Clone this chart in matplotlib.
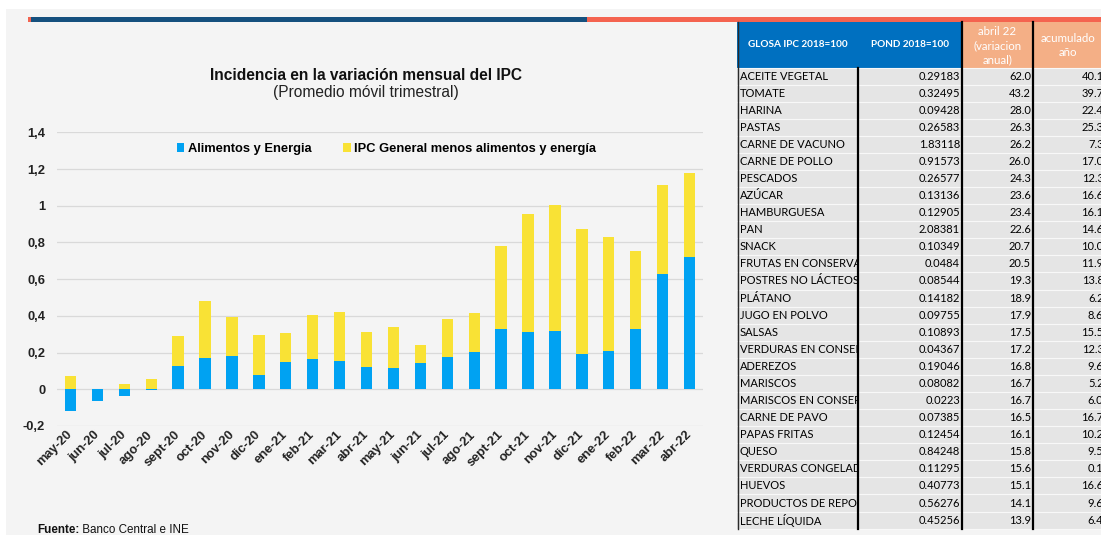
import matplotlib
matplotlib.use("Agg")
import matplotlib.pyplot as plt
from matplotlib.patches import Rectangle, Patch
from matplotlib.transforms import Bbox, TransformedBbox
import numpy as np

# ---------------- chart data ----------------
months = ["may-20", "jun-20", "jul-20", "ago-20", "sept-20", "oct-20", "nov-20",
          "dic-20", "ene-21", "feb-21", "mar-21", "abr-21", "may-21", "jun-21",
          "jul-21", "ago-21", "sept-21", "oct-21", "nov-21", "dic-21", "ene-22",
          "feb-22", "mar-22", "abr-22"]
alimentos_energia = [-0.120, -0.065, -0.035, -0.005, 0.127, 0.171, 0.182, 0.078,
                     0.151, 0.164, 0.153, 0.122, 0.114, 0.142, 0.178, 0.204,
                     0.329, 0.313, 0.320, 0.191, 0.207, 0.327, 0.627, 0.722]
ipc_sin_ae = [0.070, 0.003, 0.028, 0.058, 0.164, 0.311, 0.213, 0.217,
              0.153, 0.243, 0.267, 0.191, 0.224, 0.098, 0.206, 0.212,
              0.453, 0.643, 0.685, 0.682, 0.620, 0.428, 0.486, 0.458]
y_ticks = [-0.2, 0, 0.2, 0.4, 0.6, 0.8, 1.0, 1.2, 1.4]
y_tick_labels = ["-0,2", "0", "0,2", "0,4", "0,6", "0,8", "1", "1,2", "1,4"]
series_names = ["Alimentos y Energia", "IPC General menos alimentos y energía"]

# ---------------- table data ----------------
glosa = ["ACEITE VEGETAL", "TOMATE", "HARINA", "PASTAS", "CARNE DE VACUNO",
         "CARNE DE POLLO", "PESCADOS", "AZÚCAR", "HAMBURGUESA", "PAN", "SNACK",
         "FRUTAS EN CONSERVA", "POSTRES NO LÁCTEOS", "PLÁTANO", "JUGO EN POLVO",
         "SALSAS", "VERDURAS EN CONSERVA", "ADEREZOS", "MARISCOS",
         "MARISCOS EN CONSERVA", "CARNE DE PAVO", "PAPAS FRITAS", "QUESO",
         "VERDURAS CONGELADAS", "HUEVOS", "PRODUCTOS DE REPOSTERÍA", "LECHE LÍQUIDA"]
pond = [0.29183, 0.32495, 0.09428, 0.26583, 1.83118, 0.91573, 0.26577, 0.13136,
        0.12905, 2.08381, 0.10349, 0.0484, 0.08544, 0.14182, 0.09755, 0.10893,
        0.04367, 0.19046, 0.08082, 0.0223, 0.07385, 0.12454, 0.84248, 0.11295,
        0.40773, 0.56276, 0.45256]
var_anual = [62.0, 43.2, 28.0, 26.3, 26.2, 26.0, 24.3, 23.6, 23.4, 22.6, 20.7,
             20.5, 19.3, 18.9, 17.9, 17.5, 17.2, 16.8, 16.7, 16.7, 16.5, 16.1,
             15.8, 15.6, 15.1, 14.1, 13.9]
acumulado = [40.1, 39.7, 22.4, 25.3, 7.3, 17.0, 12.3, 16.6, 16.1, 14.6, 10.0,
             11.9, 13.8, 6.2, 8.6, 15.5, 12.3, 9.6, 5.2, 6.0, 16.7, 10.2, 9.5,
             0.1, 16.6, 9.6, 6.4]
headers = ["GLOSA IPC 2018=100", "POND 2018=100", "abril 22\n(variacion\nanual)",
           "acumulado\naño"]

BLUE = "#00A2F2"
YELLOW = "#F9E235"
W, H = 1101, 535

fig = plt.figure(figsize=(W / 100, H / 100), dpi=100, facecolor="white")

# background / decoration axes in pixel coordinates
bg = fig.add_axes([0, 0, 1, 1])
bg.set_xlim(0, W)
bg.set_ylim(H, 0)
bg.axis("off")
bg.add_patch(Rectangle((6, 9), W - 6, H - 9, facecolor="#F4F4F4", edgecolor="none"))
bg.add_patch(Rectangle((28, 17), 3, 4.5, facecolor="#F26450", edgecolor="none"))
bg.add_patch(Rectangle((31, 17), 556, 4.5, facecolor="#15507E", edgecolor="none"))
bg.add_patch(Rectangle((587, 17), W - 587, 4.5, facecolor="#F4634F", edgecolor="none"))

# ---------------- table ----------------
tfont = "Lato"
x_left, x_c1, x_c2, x_c3, x_right = 737, 858, 962, 1033, W
hdr_top, hdr_bot = 22, 67.5
row_h = 17.08
n = len(glosa)
tbl_bot = hdr_bot + n * row_h
bg.add_patch(Rectangle((x_left, hdr_top), x_c2 - x_left, hdr_bot - hdr_top,
                       facecolor="#0070C0", edgecolor="none"))
bg.add_patch(Rectangle((x_c2, hdr_top), x_right - x_c2, hdr_bot - hdr_top,
                       facecolor="#F4AF86", edgecolor="none"))
bg.add_patch(Rectangle((x_left, hdr_bot), x_right - x_left, tbl_bot - hdr_bot,
                       facecolor="#E5E5E5", edgecolor="none"))
for i in range(n + 1):
    yy = hdr_bot + i * row_h
    bg.plot([x_left, x_right], [yy, yy], color="#F8F8F8", lw=0.8)
bg.plot([x_left + 0.5, x_left + 0.5], [hdr_top, tbl_bot], color="#2A2A2A", lw=1.0)
bg.plot([x_c1, x_c1], [hdr_bot, tbl_bot], color="black", lw=1.6)
bg.plot([x_c2, x_c2], [hdr_top, tbl_bot], color="black", lw=1.6)
bg.plot([x_c3, x_c3], [hdr_top, tbl_bot], color="black", lw=1.6)

hfs = 7.2
bg.text(798, 44.5, headers[0], color="white", fontsize=hfs, fontweight="bold",
        family=tfont, ha="center", va="center")
bg.text(910, 44.5, headers[1], color="white", fontsize=hfs, fontweight="bold",
        family=tfont, ha="center", va="center")
bg.text(997.5, 45.5, headers[2], color="white", fontsize=8.3, family=tfont,
        ha="center", va="center", linespacing=1.38)
bg.text(1068, 45.5, headers[3], color="white", fontsize=8.3, family=tfont,
        ha="center", va="center", linespacing=1.38)

bfs = 8.0
for i in range(n):
    yc = hdr_bot + (i + 0.5) * row_h
    t = bg.text(x_left + 3, yc, glosa[i], fontsize=bfs, family=tfont,
                color="black", ha="left", va="center", clip_on=True)
    t.set_clip_box(TransformedBbox(Bbox([[x_left, yc - 9], [x_c1 - 1, yc + 9]]),
                                   bg.transData))
    bg.text(x_c2 - 2, yc, str(pond[i]), fontsize=bfs, family=tfont,
            color="black", ha="right", va="center")
    bg.text(x_c3 - 2, yc, f"{var_anual[i]:.1f}", fontsize=bfs, family=tfont,
            color="black", ha="right", va="center")
    bg.text(W + 2.5, yc, f"{acumulado[i]:.1f}", fontsize=bfs, family=tfont,
            color="black", ha="right", va="center")

# ---------------- titles ----------------
bg.text(365.5, 75, "Incidencia en la variación mensual del IPC", fontsize=11.2,
        fontweight="bold", family="Liberation Sans", color="#111111",
        ha="center", va="center")
bg.text(365.5, 93, "(Promedio móvil trimestral)", fontsize=11.2,
        family="Liberation Sans", color="#222222", ha="center", va="center")
t1 = bg.text(37, 530, "Fuente:", fontsize=8.4, fontweight="bold",
             family="Liberation Sans", color="#111111", ha="left", va="center")
bg.annotate(" Banco Central e INE", xy=(1, 0.5), xycoords=t1, fontsize=8.4,
            family="Liberation Sans", color="#111111", ha="left", va="center")

# ---------------- chart ----------------
ax_l, ax_r = 57, 703
ax_top, ax_bottom = 132.3, 426.0
ax = fig.add_axes([ax_l / W, 1 - ax_bottom / H, (ax_r - ax_l) / W,
                   (ax_bottom - ax_top) / H])
ax.set_facecolor("none")
x = np.arange(len(months))
ae = np.array(alimentos_energia)
rest = np.array(ipc_sin_ae)
ax.bar(x, ae, width=0.42, color=BLUE, zorder=3)
ax.bar(x, rest, width=0.42, bottom=np.where(ae > 0, ae, 0), color=YELLOW, zorder=3)
ax.set_xlim(-0.5, len(months) - 0.5)
ax.set_ylim(-0.2, 1.4)
ax.set_yticks(y_ticks)
ax.set_yticklabels(y_tick_labels)
ax.yaxis.grid(True, color="#D9D9D9", lw=0.9, zorder=0)
ax.set_axisbelow(True)
for s in ax.spines.values():
    s.set_visible(False)
ax.tick_params(axis="y", length=0, pad=8.5, labelsize=9.3, labelcolor="#222222")
ax.tick_params(axis="x", length=0, pad=5, labelsize=9.3, labelcolor="#222222")
ax.set_xticks(x)
ax.set_xticklabels(months, rotation=45, ha="right", rotation_mode="anchor",
                   va="center")
for lab in ax.get_xticklabels() + ax.get_yticklabels():
    lab.set_fontweight("bold")
    lab.set_family("Liberation Sans")

handles = [Patch(facecolor=BLUE), Patch(facecolor=YELLOW)]
ax.legend(handles, series_names, ncol=2, loc="center",
          bbox_to_anchor=(386.5 / W, 1 - 149 / H), bbox_transform=fig.transFigure,
          frameon=False, handlelength=0.6, handleheight=0.6, handletextpad=0.25,
          columnspacing=2.5, prop={"family": "Liberation Sans", "weight": "bold",
                                   "size": 9.3})

fig.savefig("out.png", dpi=100, facecolor="white")
